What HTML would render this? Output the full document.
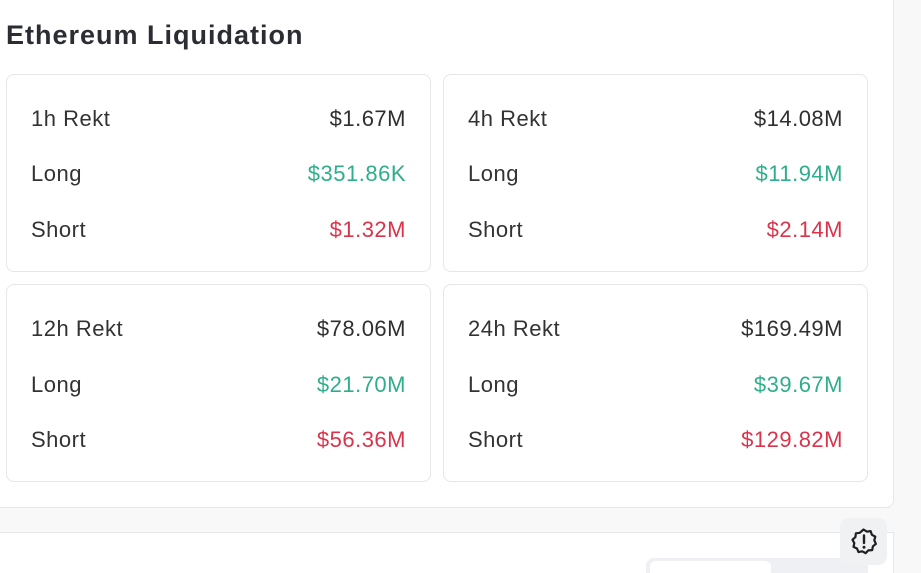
<!DOCTYPE html>
<html>
<head>
<meta charset="utf-8">
<style>
  html,body{margin:0;padding:0;width:921px;height:573px;overflow:hidden;}
  body{background:#f8f8f8;position:relative;font-family:"Liberation Sans",sans-serif;}
  .panel{position:absolute;left:-10px;top:-10px;width:904px;height:518px;background:#fff;border:1px solid #e8e8e8;border-radius:8px;box-sizing:border-box;}
  .lower{position:absolute;left:-10px;top:532px;width:904px;height:41px;background:#fff;border-top:1px solid #e6e6e6;border-right:1px solid #e8e8e8;box-sizing:border-box;}
  .title{position:absolute;left:6px;top:22px;font-size:27px;line-height:27px;font-weight:bold;color:#2b2d33;letter-spacing:1px;white-space:nowrap;}
  .card{position:absolute;width:425px;height:198px;border:1px solid #e6e6e6;border-radius:8px;box-sizing:border-box;background:#fff;}
  .lab,.val{position:absolute;font-size:22px;line-height:22px;white-space:nowrap;letter-spacing:0.5px;}
  .lab{left:24px;color:#333;}
  .val{right:24px;color:#2f2f2f;}
  .g{color:#2eae8a;}
  .r{color:#d9344b;}
  .btn{position:absolute;left:840px;top:518px;width:47px;height:47px;background:#f0f1f3;border-radius:9px;}
  .pill{position:absolute;left:646px;top:558px;width:222px;height:15px;background:#eef0f3;border-radius:8px 8px 0 0;overflow:hidden;}
  .pill .in{position:absolute;left:4px;top:3px;width:121px;height:30px;background:#fff;border-radius:6px;}
</style>
</head>
<body>
<div class="panel"></div>
<div class="title">Ethereum Liquidation</div>

<div class="card" style="left:6px;top:74px;">
  <div class="lab" style="top:33px;">1h Rekt</div><div class="val" style="top:33px;">$1.67M</div>
  <div class="lab" style="top:88px;">Long</div><div class="val g" style="top:88px;">$351.86K</div>
  <div class="lab" style="top:144px;">Short</div><div class="val r" style="top:144px;">$1.32M</div>
</div>
<div class="card" style="left:443px;top:74px;">
  <div class="lab" style="top:33px;">4h Rekt</div><div class="val" style="top:33px;">$14.08M</div>
  <div class="lab" style="top:88px;">Long</div><div class="val g" style="top:88px;">$11.94M</div>
  <div class="lab" style="top:144px;">Short</div><div class="val r" style="top:144px;">$2.14M</div>
</div>
<div class="card" style="left:6px;top:284px;">
  <div class="lab" style="top:33px;">12h Rekt</div><div class="val" style="top:33px;">$78.06M</div>
  <div class="lab" style="top:89px;">Long</div><div class="val g" style="top:89px;">$21.70M</div>
  <div class="lab" style="top:144px;">Short</div><div class="val r" style="top:144px;">$56.36M</div>
</div>
<div class="card" style="left:443px;top:284px;">
  <div class="lab" style="top:33px;">24h Rekt</div><div class="val" style="top:33px;">$169.49M</div>
  <div class="lab" style="top:89px;">Long</div><div class="val g" style="top:89px;">$39.67M</div>
  <div class="lab" style="top:144px;">Short</div><div class="val r" style="top:144px;">$129.82M</div>
</div>

<div class="lower"></div>
<div class="pill"><div class="in"></div></div>
<div class="btn">
  <svg width="47" height="47" viewBox="0 0 47 47">
    <path d="M23.5 11.5 L26.8 13.6 L30.6 13.1 L31.9 16.8 L35.3 18.6 L34.3 22.3 L35.9 25.9 L32.9 28.3 L32.2 32.1 L28.3 32.4 L25.6 35.2 L22.3 33.3 L18.5 34.1 L17 30.5 L13.5 28.9 L14.3 25.1 L12.5 21.7 L15.4 19.1 L15.9 15.3 L19.8 14.8 Z" fill="none" stroke="#1f2023" stroke-width="2.2" stroke-linejoin="round"/>
    <line x1="24" y1="17.5" x2="24" y2="25" stroke="#1f2023" stroke-width="2.4" stroke-linecap="round"/>
    <circle cx="24" cy="29.2" r="1.5" fill="#1f2023"/>
  </svg>
</div>
</body>
</html>
